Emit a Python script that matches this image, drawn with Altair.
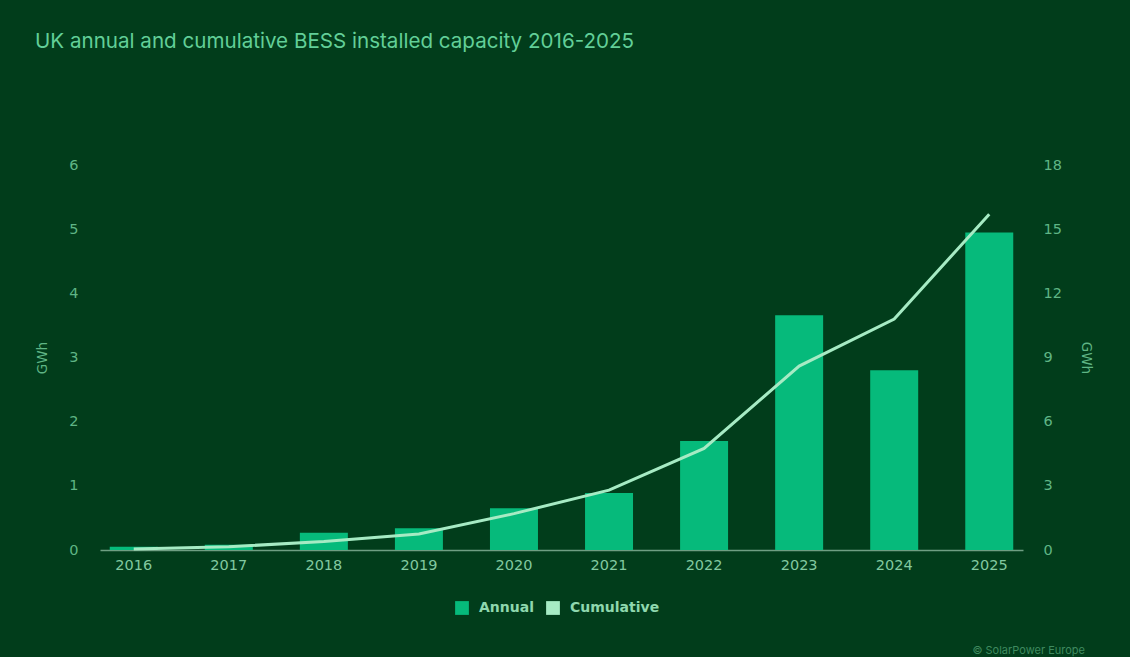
import altair as alt
import pandas as pd

years = ["2016", "2017", "2018", "2019", "2020", "2021", "2022", "2023", "2024", "2025"]
annual = [0.05, 0.08, 0.27, 0.34, 0.65, 0.89, 1.70, 3.66, 2.80, 4.95]
cumulative = [0.05, 0.15, 0.40, 0.75, 1.70, 2.80, 4.75, 8.60, 10.80, 15.70]

BG = "#013d1b"
BAR = "#06ba7b"
LINE = "#a6ebc4"
TXT = "#5fb585"
FONT = "Inter"
LFONT = "DejaVu Sans"

df = pd.DataFrame({"year": years, "annual": annual, "cumulative": cumulative, "series": ["Annual"] * len(years)})

xenc = alt.X("year:N", title=None,
             scale=alt.Scale(paddingInner=0.49, paddingOuter=0.1),
             axis=alt.Axis(labelAngle=0, labelColor="#82c9a0", labelFontSize=14.5, labelPadding=8,
                           labelFont=LFONT, ticks=False, domainColor="#6f9f83", domainWidth=1.5,
                           grid=False))

bars = alt.Chart(df).mark_bar(size=48).encode(
    x=xenc,
    y=alt.Y("annual:Q", scale=alt.Scale(domain=[0, 6]),
            axis=alt.Axis(title="GWh", orient="left", values=[0, 1, 2, 3, 4, 5, 6], grid=False,
                          domain=False, ticks=False, labelPadding=22, labelColor=TXT,
                          labelFontSize=14.5, labelFont=LFONT, titleColor=TXT, titleFontSize=13.5,
                          titleFont=LFONT, titleFontWeight="normal", titlePadding=19)),
    color=alt.Color("series:N", scale=alt.Scale(domain=["Annual", "Cumulative"], range=[BAR, LINE]),
                    legend=alt.Legend(title=None, orient="none", legendX=355, legendY=436,
                                      direction="horizontal", symbolType="square", symbolSize=190,
                                      symbolStrokeWidth=0, labelColor="#8fd8ae", labelFontSize=14,
                                      labelFontWeight="bold", labelFont=LFONT, columnPadding=12,
                                      labelOffset=10)),
)

line = alt.Chart(df).mark_line(strokeWidth=3, color=LINE).encode(
    x=alt.X("year:N"),
    y=alt.Y("cumulative:Q", scale=alt.Scale(domain=[0, 18]),
            axis=alt.Axis(title="GWh", orient="right", values=[0, 3, 6, 9, 12, 15, 18], grid=False,
                          domain=False, ticks=False, labelPadding=20, labelColor=TXT,
                          labelFontSize=14.5, labelFont=LFONT, titleColor=TXT, titleFontSize=13.5,
                          titleFont=LFONT, titleFontWeight="normal", titlePadding=17)),
)

credit = alt.Chart(pd.DataFrame({"t": ["© SolarPower Europe"]})).mark_text(
    align="right", baseline="middle", fontSize=11, font=FONT, color="#3f8a5f"
).encode(text="t:N", x=alt.value(985), y=alt.value(486))

chart = alt.layer(bars, line, credit).resolve_scale(y="independent").properties(
    width=923, height=385,
    padding={"left": 100, "top": 165, "right": 107, "bottom": 107},
    autosize=alt.AutoSizeParams(type="none"),
    background=BG,
    title=alt.Title("UK annual and cumulative BESS installed capacity 2016-2025",
                    anchor="start", frame="group", color="#62cf98", fontSize=20.6,
                    font=FONT, fontWeight="normal", dx=-65, offset=104),
).configure_view(stroke=None)

chart.save("out.html", embed_options={"renderer": "svg", "actions": False})
